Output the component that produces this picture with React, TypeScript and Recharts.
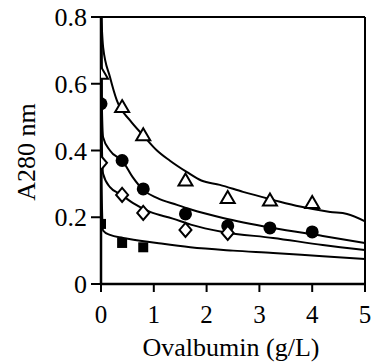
import { ComposedChart, Line, Scatter, XAxis, YAxis, ReferenceLine, Label } from "recharts"

// fitted curves as [x, y]
const curveTriangle = [
  [0.005, 0.8], [0.04, 0.71], [0.17, 0.62], [0.3, 0.55], [0.55, 0.49], [0.8, 0.445],
  [1.06, 0.4], [1.3, 0.37], [1.63, 0.335], [1.9, 0.31], [2.25, 0.297], [2.69, 0.276],
  [3.26, 0.252], [3.77, 0.232], [4.34, 0.216], [4.66, 0.21], [5, 0.188],
]
const curveCircle = [
  [0.005, 0.8], [0.015, 0.55], [0.04, 0.44], [0.17, 0.4], [0.42, 0.366], [0.6, 0.32],
  [0.8, 0.282], [1.06, 0.258], [1.44, 0.237], [1.69, 0.224], [2.31, 0.198], [3.26, 0.168],
  [4.2, 0.144], [5, 0.123],
]
const curveDiamond = [
  [0.005, 0.8], [0.012, 0.45], [0.04, 0.33], [0.17, 0.29], [0.36, 0.27], [0.6, 0.243],
  [0.93, 0.216], [1.36, 0.196], [1.7, 0.178], [2.31, 0.156], [3.26, 0.138], [4.2, 0.117],
  [5, 0.102],
]
const curveSquare = [
  [0.005, 0.8], [0.01, 0.3], [0.04, 0.16], [0.17, 0.147], [0.42, 0.138], [1.06, 0.123],
  [1.69, 0.11], [2.5, 0.1], [3.26, 0.093], [4.2, 0.083], [5, 0.075],
]

// measured points
const triangles = [[0, 0.63], [0.4, 0.53], [0.8, 0.446], [1.6, 0.31], [2.4, 0.258], [3.2, 0.25], [4, 0.243]]
const circles = [[0, 0.54], [0.4, 0.37], [0.8, 0.285], [1.6, 0.21], [2.4, 0.174], [3.2, 0.168], [4, 0.156]]
const diamonds = [[0, 0.363], [0.4, 0.267], [0.8, 0.213], [1.6, 0.162], [2.4, 0.153]]
const squares = [[0, 0.18], [0.4, 0.123], [0.8, 0.11]]

const xTicks = [0, 1, 2, 3, 4, 5]
const yTicks = [0, 0.2, 0.4, 0.6, 0.8]

const toRows = (pts: number[][]) => pts.map(([x, y]) => ({ x, y }))

const font = "Liberation Serif"
const textStyle = { fontFamily: font }

const Triangle = ({ cx, cy }: any) => (
  <path d={`M${cx},${cy - 7} L${cx + 7},${cy + 5} L${cx - 7},${cy + 5} Z`} fill="#fff" stroke="#000" strokeWidth={2} />
)
const Circle = ({ cx, cy }: any) => <circle cx={cx} cy={cy} r={6.5} fill="#000" />
const Diamond = ({ cx, cy }: any) => (
  <path d={`M${cx},${cy - 7} L${cx + 6},${cy} L${cx},${cy + 7} L${cx - 6},${cy} Z`} fill="#fff" stroke="#000" strokeWidth={2} />
)
const Square = ({ cx, cy }: any) => <rect x={cx - 5} y={cy - 5} width={10} height={10} fill="#000" />

const renderXTick = ({ x, y, payload }: any) => (
  <text key={`x${payload.value}`} x={x} y={y + 31} textAnchor="middle" fontSize={25} fontFamily={font} style={textStyle} fill="#000">
    {String(payload.value)}
  </text>
)
const renderYTick = ({ x, y, payload }: any) => (
  <text key={`y${payload.value}`} x={x} y={y + 9} textAnchor="end" fontSize={26} fontFamily={font} style={textStyle} fill="#000">
    {payload.value === 0 ? "0" : String(payload.value)}
  </text>
)

export default function App() {
  const curves = [curveTriangle, curveCircle, curveDiamond, curveSquare]
  return (
    <div style={{ position: "absolute", left: 0, top: 0, background: "#fff", fontFamily: font }}>
      <ComposedChart width={372} height={364} margin={{ top: 17, right: 7, left: 0, bottom: 0 }}>
        <XAxis
          dataKey="x"
          type="number"
          domain={[0, 5]}
          ticks={xTicks}
          allowDataOverflow
          height={80}
          tickSize={8}
          tickMargin={0}
          tick={renderXTick}
          axisLine={{ stroke: "#000", strokeWidth: 2.5 }}
          tickLine={{ stroke: "#000", strokeWidth: 2 }}
        >
          <Label
            content={() => (
              <text x={231} y={356} textAnchor="middle" fontSize={26} style={textStyle} fill="#000">
                Ovalbumin (g/L)
              </text>
            )}
          />
        </XAxis>
        <YAxis
          dataKey="y"
          type="number"
          domain={[0, 0.8]}
          ticks={yTicks}
          allowDataOverflow
          width={101}
          tickSize={10}
          tickMargin={4}
          tick={renderYTick}
          axisLine={{ stroke: "#000", strokeWidth: 2.5 }}
          tickLine={{ stroke: "#000", strokeWidth: 2 }}
        >
          <Label
            content={() => (
              <text
                x={26}
                y={152}
                transform="rotate(-90 26 152)"
                textAnchor="middle"
                dominantBaseline="central"
                fontSize={26}
                style={textStyle}
                fill="#000"
              >
                A280 nm
              </text>
            )}
          />
        </YAxis>
        <ReferenceLine y={0.8} stroke="#000" strokeWidth={2} />
        <ReferenceLine x={5} stroke="#000" strokeWidth={2} />
        {curves.map((c, i) => (
          <Line
            key={i}
            data={toRows(c)}
            dataKey="y"
            type="monotone"
            stroke="#000"
            strokeWidth={2}
            dot={false}
            activeDot={false}
            isAnimationActive={false}
          />
        ))}
        <Scatter data={toRows(triangles)} dataKey="y" shape={Triangle} isAnimationActive={false} />
        <Scatter data={toRows(circles)} dataKey="y" shape={Circle} isAnimationActive={false} />
        <Scatter data={toRows(diamonds)} dataKey="y" shape={Diamond} isAnimationActive={false} />
        <Scatter data={toRows(squares)} dataKey="y" shape={Square} isAnimationActive={false} />
      </ComposedChart>
    </div>
  )
}
